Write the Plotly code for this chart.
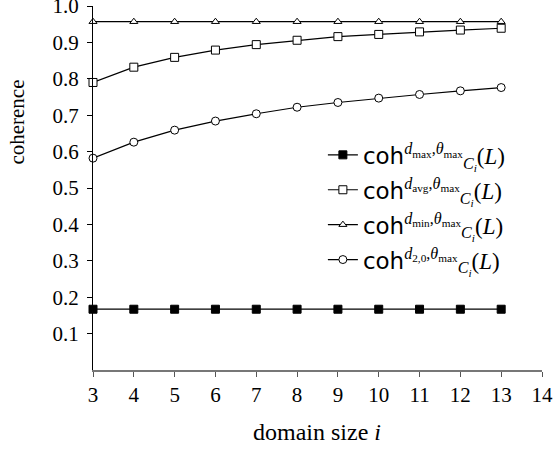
import plotly.graph_objects as go

domain_size = [3, 4, 5, 6, 7, 8, 9, 10, 11, 12, 13]
coh_dmax = [0.167] * 11
coh_davg = [0.79, 0.832, 0.859, 0.879, 0.894, 0.906, 0.916, 0.922, 0.929, 0.934, 0.939]
coh_dmin = [0.957] * 11
coh_d20 = [0.582, 0.626, 0.659, 0.684, 0.704, 0.722, 0.735, 0.747, 0.757, 0.767, 0.776]

y_ticks = [0.1, 0.2, 0.3, 0.4, 0.5, 0.6, 0.7, 0.8, 0.9, 1.0]
x_ticks = [3, 4, 5, 6, 7, 8, 9, 10, 11, 12, 13, 14]

SANS = "font-family:'DejaVu Sans'"


def label(dsub):
    return (f"<span style=\"{SANS}\">coh</span>"
            f"<sup><i>d</i><sub>{dsub}</sub>,<i>θ</i><sub>max</sub></sup>"
            f"<sub><i>C</i><sub><i>i</i></sub></sub>(<i>L</i>)")


series = [
    (coh_dmax, "square", "black", label("max")),
    (coh_davg, "square", "white", label("avg")),
    (coh_dmin, "triangle-up", "white", label("min")),
    (coh_d20, "circle", "white", label("2,0")),
]

fig = go.Figure()
for k, (ys, sym, fill, name) in enumerate(series):
    size = 8 if sym != "triangle-up" else 7
    fig.add_trace(go.Scatter(
        x=domain_size, y=ys, mode="lines+markers", name=name,
        legendgroup=f"g{k}",
        line=dict(color="black", width=1.2),
        marker=dict(symbol=sym, size=size, color=fill,
                    line=dict(color="black", width=1)),
        cliponaxis=False,
    ))

fig.update_layout(
    width=555, height=450,
    margin=dict(l=93, r=13, t=6, b=80),
    plot_bgcolor="white", paper_bgcolor="white",
    font=dict(family="Liberation Serif", size=20, color="black"),
    showlegend=True,
    legend=dict(x=0.512, xanchor="left", y=0.65, yanchor="top",
                bgcolor="rgba(0,0,0,0)", font=dict(size=23),
                itemwidth=30, tracegroupgap=2, traceorder="grouped"),
    annotations=[
        dict(text="domain size <i>i</i>", xref="paper", yref="paper",
             x=0.499, y=-0.170, xanchor="center", yanchor="middle",
             showarrow=False, font=dict(size=24)),
        dict(text="coherence", xref="paper", yref="paper",
             x=-0.169, y=0.68, xanchor="center", yanchor="middle",
             textangle=-90, showarrow=False, font=dict(size=21)),
    ],
)
fig.update_xaxes(
    range=[3, 14.0001], tickvals=x_ticks, ticks="outside", ticklen=5,
    tickcolor="#555", showline=True, linecolor="#777", linewidth=1.5,
    showgrid=False, zeroline=False, tickfont=dict(size=21),
    automargin=False, ticklabeloverflow="allow", ticklabelstandoff=0,
)
fig.update_yaxes(
    range=[0, 1.0001], tickvals=y_ticks, ticktext=[f"{v:.1f}" for v in y_ticks],
    ticks="outside", ticklen=5, tickcolor="black",
    showline=True, linecolor="black", linewidth=1.2,
    showgrid=False, zeroline=False, tickfont=dict(size=21),
    automargin=False, ticklabeloverflow="allow", ticklabelstandoff=4,
)

fig.write_html("out.html", config={"displayModeBar": False},
               post_script="document.body.style.margin='0';")
